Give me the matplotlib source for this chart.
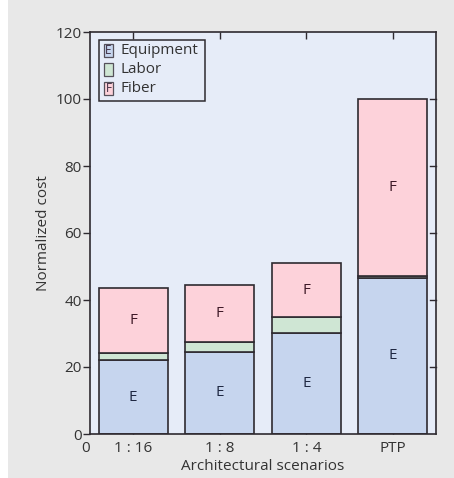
import numpy as np
import matplotlib
matplotlib.use('Agg')
import matplotlib.pyplot as plt
from matplotlib.patches import Rectangle

# Data
scenarios = ['1 : 16', '1 : 8', '1 : 4', 'PTP']
equipment = [22.0, 24.6, 30.2, 46.6]
labor = [2.1, 3.0, 4.7, 0.6]
fiber = [19.4, 16.8, 16.0, 52.8]

c_equip = '#c6d5ee'
c_labor = '#cfe6d4'
c_fiber = '#fdd2da'
c_edge = '#2e2a30'
c_text = '#333333'
fs = 11

plt.rcParams['font.family'] = ['Open Sans', 'DejaVu Sans']
plt.rcParams['text.color'] = c_text

fig = plt.figure(figsize=(4.54, 4.78), dpi=100, facecolor='#e8e8e8')
# white strip on the left edge
fig.patches.append(Rectangle((0, 0), 8 / 454, 1, transform=fig.transFigure,
                             facecolor='white', edgecolor='none', zorder=-1))

ax = fig.add_axes([90 / 454, 1 - 434 / 478, 346 / 454, 402 / 478])
ax.set_facecolor('#e6ecf8')

x = np.arange(1, len(scenarios) + 1)
w = 0.8
equipment = np.array(equipment)
labor = np.array(labor)
fiber = np.array(fiber)

ax.bar(x, equipment, w, color=c_equip, edgecolor=c_edge, linewidth=1.2, zorder=2)
ax.bar(x, labor, w, bottom=equipment, color=c_labor, edgecolor=c_edge, linewidth=1.2, zorder=2)
ax.bar(x, fiber, w, bottom=equipment + labor, color=c_fiber, edgecolor=c_edge, linewidth=1.2, zorder=2)

# letters inside segments
for i in range(len(x)):
    ax.text(x[i], equipment[i] / 2, 'E', ha='center', va='center', fontsize=fs, color='#1f2842', zorder=3)
    ax.text(x[i], equipment[i] + labor[i] + fiber[i] / 2, 'F', ha='center', va='center',
            fontsize=fs, color='#3e1a28', zorder=3)

ax.set_xlim(0.5, 4.5)
ax.set_ylim(0, 120)
ax.set_xticks(x)
ax.set_xticklabels(scenarios)
ax.set_yticks([0, 20, 40, 60, 80, 100, 120])
ax.tick_params(axis='x', direction='in', top=True, length=5, width=1, color=c_edge,
               labelsize=fs, labelcolor=c_text, pad=5)
ax.tick_params(axis='y', direction='out', length=5, width=1, color=c_edge,
               labelsize=fs, labelcolor=c_text, pad=1)
# right-side inward ticks
for yv in [20, 40, 60, 80, 100]:
    ax.plot([4.5 - 0.07, 4.5], [yv, yv], color=c_edge, lw=1, clip_on=False, zorder=4)

for s in ax.spines.values():
    s.set_color(c_edge)
    s.set_linewidth(1.2)

ax.text(0.5, -2.0, '0', transform=ax.transData, ha='right', va='top', fontsize=fs, color=c_text)
ax.set_xlabel('Architectural scenarios', fontsize=fs, labelpad=2, color=c_text)
ax.set_ylabel('Normalized cost', fontsize=fs, labelpad=3, color=c_text)

# legend drawn with letter-marked swatches
legend_items = [('Equipment', c_equip, 'E'), ('Labor', c_labor, ''), ('Fiber', c_fiber, 'F')]
ax.add_patch(Rectangle((0.027, 0.829), 0.305, 0.151, transform=ax.transAxes,
                       facecolor='#e6ecf8', edgecolor=c_edge, linewidth=1.1, zorder=5))
for k, (name, col, letter) in enumerate(legend_items):
    yc = 0.953 - k * 0.047
    ax.add_patch(Rectangle((0.041, yc - 0.016), 0.025, 0.032, transform=ax.transAxes,
                           facecolor=col, edgecolor='#55505a', linewidth=0.9, zorder=6))
    if letter:
        ax.text(0.0535, yc, letter, transform=ax.transAxes, ha='center', va='center',
                fontsize=8.5, color='#3a2a40', zorder=7)
    ax.text(0.088, yc, name, transform=ax.transAxes, ha='left', va='center',
            fontsize=fs, color=c_text, zorder=7)

fig.savefig('out.png', dpi=100, facecolor=fig.get_facecolor())
